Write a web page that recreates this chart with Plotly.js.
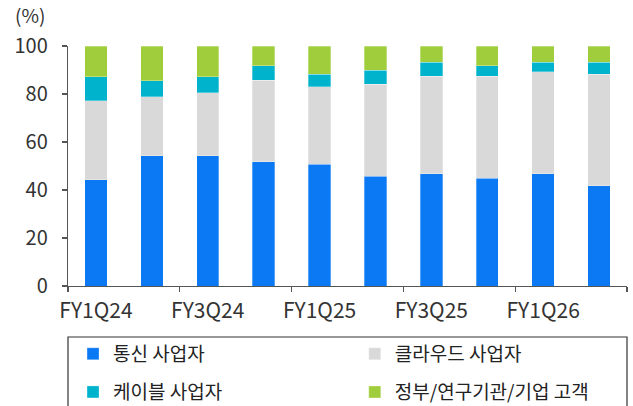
<!DOCTYPE html>
<html><head><meta charset="utf-8">
<script src="https://cdn.plot.ly/plotly-3.0.1.min.js"></script>
<style>body{margin:0;padding:0;background:#fff}#c{width:633px;height:406px}</style>
</head><body><div id="c"></div>
<script>
const categories = ["FY1Q24","FY2Q24","FY3Q24","FY4Q24","FY1Q25","FY2Q25","FY3Q25","FY4Q25","FY1Q26","FY2Q26"];
const telecom = [44.2, 54.3, 54.3, 51.7, 50.8, 45.8, 46.7, 45.0, 46.7, 41.7];
const cloud   = [33.0, 24.6, 26.3, 34.0, 32.3, 38.2, 40.8, 42.5, 42.5, 46.6];
const cable   = [10.0, 6.7, 6.6, 6.0, 5.1, 6.0, 5.8, 4.2, 4.1, 5.0];
const govt    = [12.8, 14.4, 12.8, 8.3, 11.8, 10.0, 6.7, 8.3, 6.7, 6.7];
const names = ["통신 사업자","클라우드 사업자","케이블 사업자","정부/연구기관/기업 고객"];
const colors = ["#0b79f4","#d9d9d9","#00b3cc","#a0cd3c"];
const series = [telecom, cloud, cable, govt];
const legendIds = ["legend","legend2","legend3","legend4"];

const FONT = "'Noto Sans CJK KR','Noto Sans',sans-serif";
const traces = series.map((v,i)=>({
  type:"bar", x:categories, y:v, name:names[i], showlegend:true,
  marker:{color:colors[i], line:{color:"rgba(255,255,255,0.5)", width:0.6}},
  legend: legendIds[i]
}));

const lg = (x,y)=>({orientation:"h", x:x, y:y, xanchor:"left", yanchor:"middle",
  font:{family:FONT, size:19, color:"#222"}, bgcolor:"rgba(0,0,0,0)", borderwidth:0});

const layout = {
  width:633, height:406,
  showlegend:true,
  margin:{l:68, r:6, t:46, b:120, autoexpand:false},
  barmode:"stack", bargap:0.6,
  paper_bgcolor:"#fff", plot_bgcolor:"#fff",
  font:{family:FONT, color:"#333"},
  xaxis:{type:"category", tickson:"boundaries", dtick:2, tickangle:0, ticks:"outside", ticklen:5, tickwidth:1.2,
    tickcolor:"#555", showline:true, linecolor:"#555", linewidth:1.2, showgrid:false, ticklabelstandoff:6,
    tickfont:{family:FONT, size:21, color:"#333"}},
  yaxis:{range:[0,100], dtick:20, ticks:"outside", ticklen:5, tickwidth:1.2, tickcolor:"#555",
    showline:true, linecolor:"#555", linewidth:1.2, showgrid:false, zeroline:false, ticklabelstandoff:10,
    tickfont:{family:FONT, size:20, color:"#333"}},
  legend: lg(0.009, -0.283),
  legend2: lg(0.513, -0.283),
  legend3: lg(0.009, -0.442),
  legend4: lg(0.513, -0.442),
  shapes:[{type:"rect", xref:"paper", yref:"paper", x0:0, x1:1.0, y0:-0.56, y1:-0.2125,
    line:{color:"#333", width:1.2}, fillcolor:"rgba(0,0,0,0)"}],
  annotations:[{text:"(%)", xref:"paper", yref:"paper", x:-0.098, y:1.13, xanchor:"left", yanchor:"middle",
    showarrow:false, font:{family:FONT, size:19, color:"#333"}}]
};
Plotly.newPlot("c", traces, layout, {displayModeBar:false, staticPlot:true});
</script></body></html>
